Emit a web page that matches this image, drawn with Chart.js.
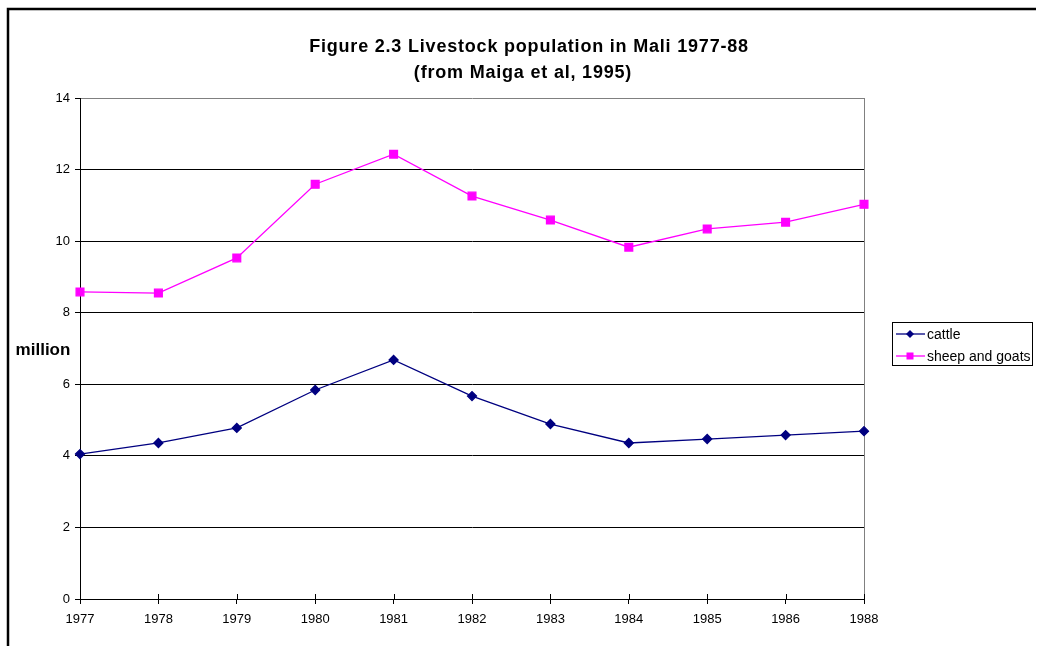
<!DOCTYPE html>
<html>
<head>
<meta charset="utf-8">
<script src="https://cdn.jsdelivr.net/npm/chart.js@4/dist/chart.umd.min.js"></script>
<style>
  html, body { margin: 0; padding: 0; background: #fff; }
  canvas { display: block; }
</style>
</head>
<body>
<canvas id="c" width="1037" height="646"></canvas>
<script>
// Livestock population in Mali, millions of head
const years = ['1977', '1978', '1979', '1980', '1981', '1982', '1983', '1984', '1985', '1986', '1988'];
const cattle = [4.05, 4.36, 4.78, 5.84, 6.68, 5.67, 4.89, 4.36, 4.47, 4.58, 4.69];
const sheepAndGoats = [8.58, 8.55, 9.53, 11.59, 12.43, 11.26, 10.59, 9.83, 10.34, 10.53, 11.03];
const yTicks = [0, 2, 4, 6, 8, 10, 12, 14];
const titleLines = ['Figure 2.3 Livestock population in Mali 1977-88', '(from Maiga et al, 1995)'];
const yAxisName = 'million';

const FONT = '"Liberation Sans", Arial, sans-serif';

// Page frame, heading, axis name, inner x tick marks and the legend box
const decorations = {
  id: 'decorations',
  afterDraw(chart) {
    const ctx = chart.ctx;
    const area = chart.chartArea;
    const xs = chart.scales.x;
    ctx.save();

    // outer frame (top and left edges)
    ctx.strokeStyle = '#000';
    ctx.lineWidth = 2.5;
    ctx.beginPath();
    ctx.moveTo(8, 660);
    ctx.lineTo(8, 9);
    ctx.lineTo(1036, 9);
    ctx.stroke();

    // heading
    ctx.fillStyle = '#000';
    ctx.font = 'bold 18px ' + FONT;
    ctx.textAlign = 'center';
    ctx.textBaseline = 'middle';
    if ('letterSpacing' in ctx) ctx.letterSpacing = '0.8px';
    ctx.fillText(titleLines[0], 529, 47);
    ctx.fillText(titleLines[1], 523, 73);
    if ('letterSpacing' in ctx) ctx.letterSpacing = '0px';

    // axis name
    ctx.font = 'bold 17px ' + FONT;
    ctx.fillText(yAxisName, 43, 350);

    // x tick marks reaching into the plot
    ctx.strokeStyle = '#000';
    ctx.lineWidth = 1;
    years.forEach((_, i) => {
      const x = Math.round(xs.getPixelForValue(i)) + 0.5;
      ctx.beginPath();
      ctx.moveTo(x, area.bottom);
      ctx.lineTo(x, area.bottom - 5);
      ctx.stroke();
    });

    // legend
    const bx = 892.5, by = 322.5, bw = 140, bh = 43;
    ctx.lineWidth = 1;
    ctx.strokeStyle = '#000';
    ctx.strokeRect(bx, by, bw, bh);
    ctx.font = '14px ' + FONT;
    ctx.textAlign = 'left';
    chart.data.datasets.forEach((ds, i) => {
      const y = 334 + i * 22;
      ctx.strokeStyle = ds.borderColor;
      ctx.lineWidth = 1.3;
      ctx.beginPath();
      ctx.moveTo(896, y);
      ctx.lineTo(925, y);
      ctx.stroke();
      ctx.fillStyle = ds.pointBackgroundColor;
      if (ds.pointStyle === 'rectRot') {
        ctx.beginPath();
        ctx.moveTo(910, y - 4);
        ctx.lineTo(914, y);
        ctx.lineTo(910, y + 4);
        ctx.lineTo(906, y);
        ctx.closePath();
        ctx.fill();
      } else {
        ctx.fillRect(906.5, y - 3.5, 7, 7);
      }
      ctx.fillStyle = '#000';
      ctx.fillText(ds.label, 927, y + 1);
    });

    ctx.restore();
  }
};

new Chart(document.getElementById('c'), {
  type: 'line',
  data: {
    labels: years,
    datasets: [
      {
        label: 'cattle',
        data: cattle,
        borderColor: '#000080',
        backgroundColor: '#000080',
        pointBackgroundColor: '#000080',
        pointBorderColor: '#000080',
        pointStyle: 'rectRot',
        pointRadius: 4.5,
        borderWidth: 1.3,
        tension: 0
      },
      {
        label: 'sheep and goats',
        data: sheepAndGoats,
        borderColor: '#ff00ff',
        backgroundColor: '#ff00ff',
        pointBackgroundColor: '#ff00ff',
        pointBorderColor: '#ff00ff',
        pointStyle: 'rect',
        pointRadius: 5.5,
        borderWidth: 1.3,
        tension: 0
      }
    ]
  },
  options: {
    responsive: false,
    animation: false,
    layout: { padding: { top: 98, right: 173, left: 0, bottom: 0 } },
    plugins: {
      legend: { display: false },
      title: { display: false },
      tooltip: { enabled: false }
    },
    scales: {
      x: {
        type: 'category',
        offset: false,
        grid: {
          display: true,
          drawOnChartArea: false,
          drawTicks: true,
          tickLength: 5,
          color: '#000',
          offset: false
        },
        border: { color: '#000', width: 1 },
        ticks: {
          color: '#000',
          font: { family: FONT, size: 13 },
          padding: 8,
          maxRotation: 0,
          autoSkip: false
        },
        afterFit(scale) { scale.height = 47; }
      },
      y: {
        min: 0,
        max: 14,
        afterBuildTicks(scale) { scale.ticks = yTicks.map(v => ({ value: v })); },
        grid: {
          color: (c) => (c.tick && c.tick.value === 14 ? '#808080' : '#000'),
          tickColor: '#000',
          tickLength: 5,
          lineWidth: 1
        },
        border: { color: '#000', width: 1 },
        ticks: {
          color: '#000',
          font: { family: FONT, size: 13 },
          padding: 5
        },
        afterFit(scale) { scale.width = 80; }
      }
    }
  },
  plugins: [
    decorations,
    {
      // grey right edge of the plot area
      id: 'plotEdge',
      beforeDatasetsDraw(chart) {
        const { ctx, chartArea: a } = chart;
        ctx.save();
        ctx.strokeStyle = '#808080';
        ctx.lineWidth = 1;
        ctx.beginPath();
        ctx.moveTo(Math.round(a.right) + 0.5, a.top);
        ctx.lineTo(Math.round(a.right) + 0.5, a.bottom);
        ctx.stroke();
        ctx.restore();
      }
    }
  ]
});
</script>
</body>
</html>
